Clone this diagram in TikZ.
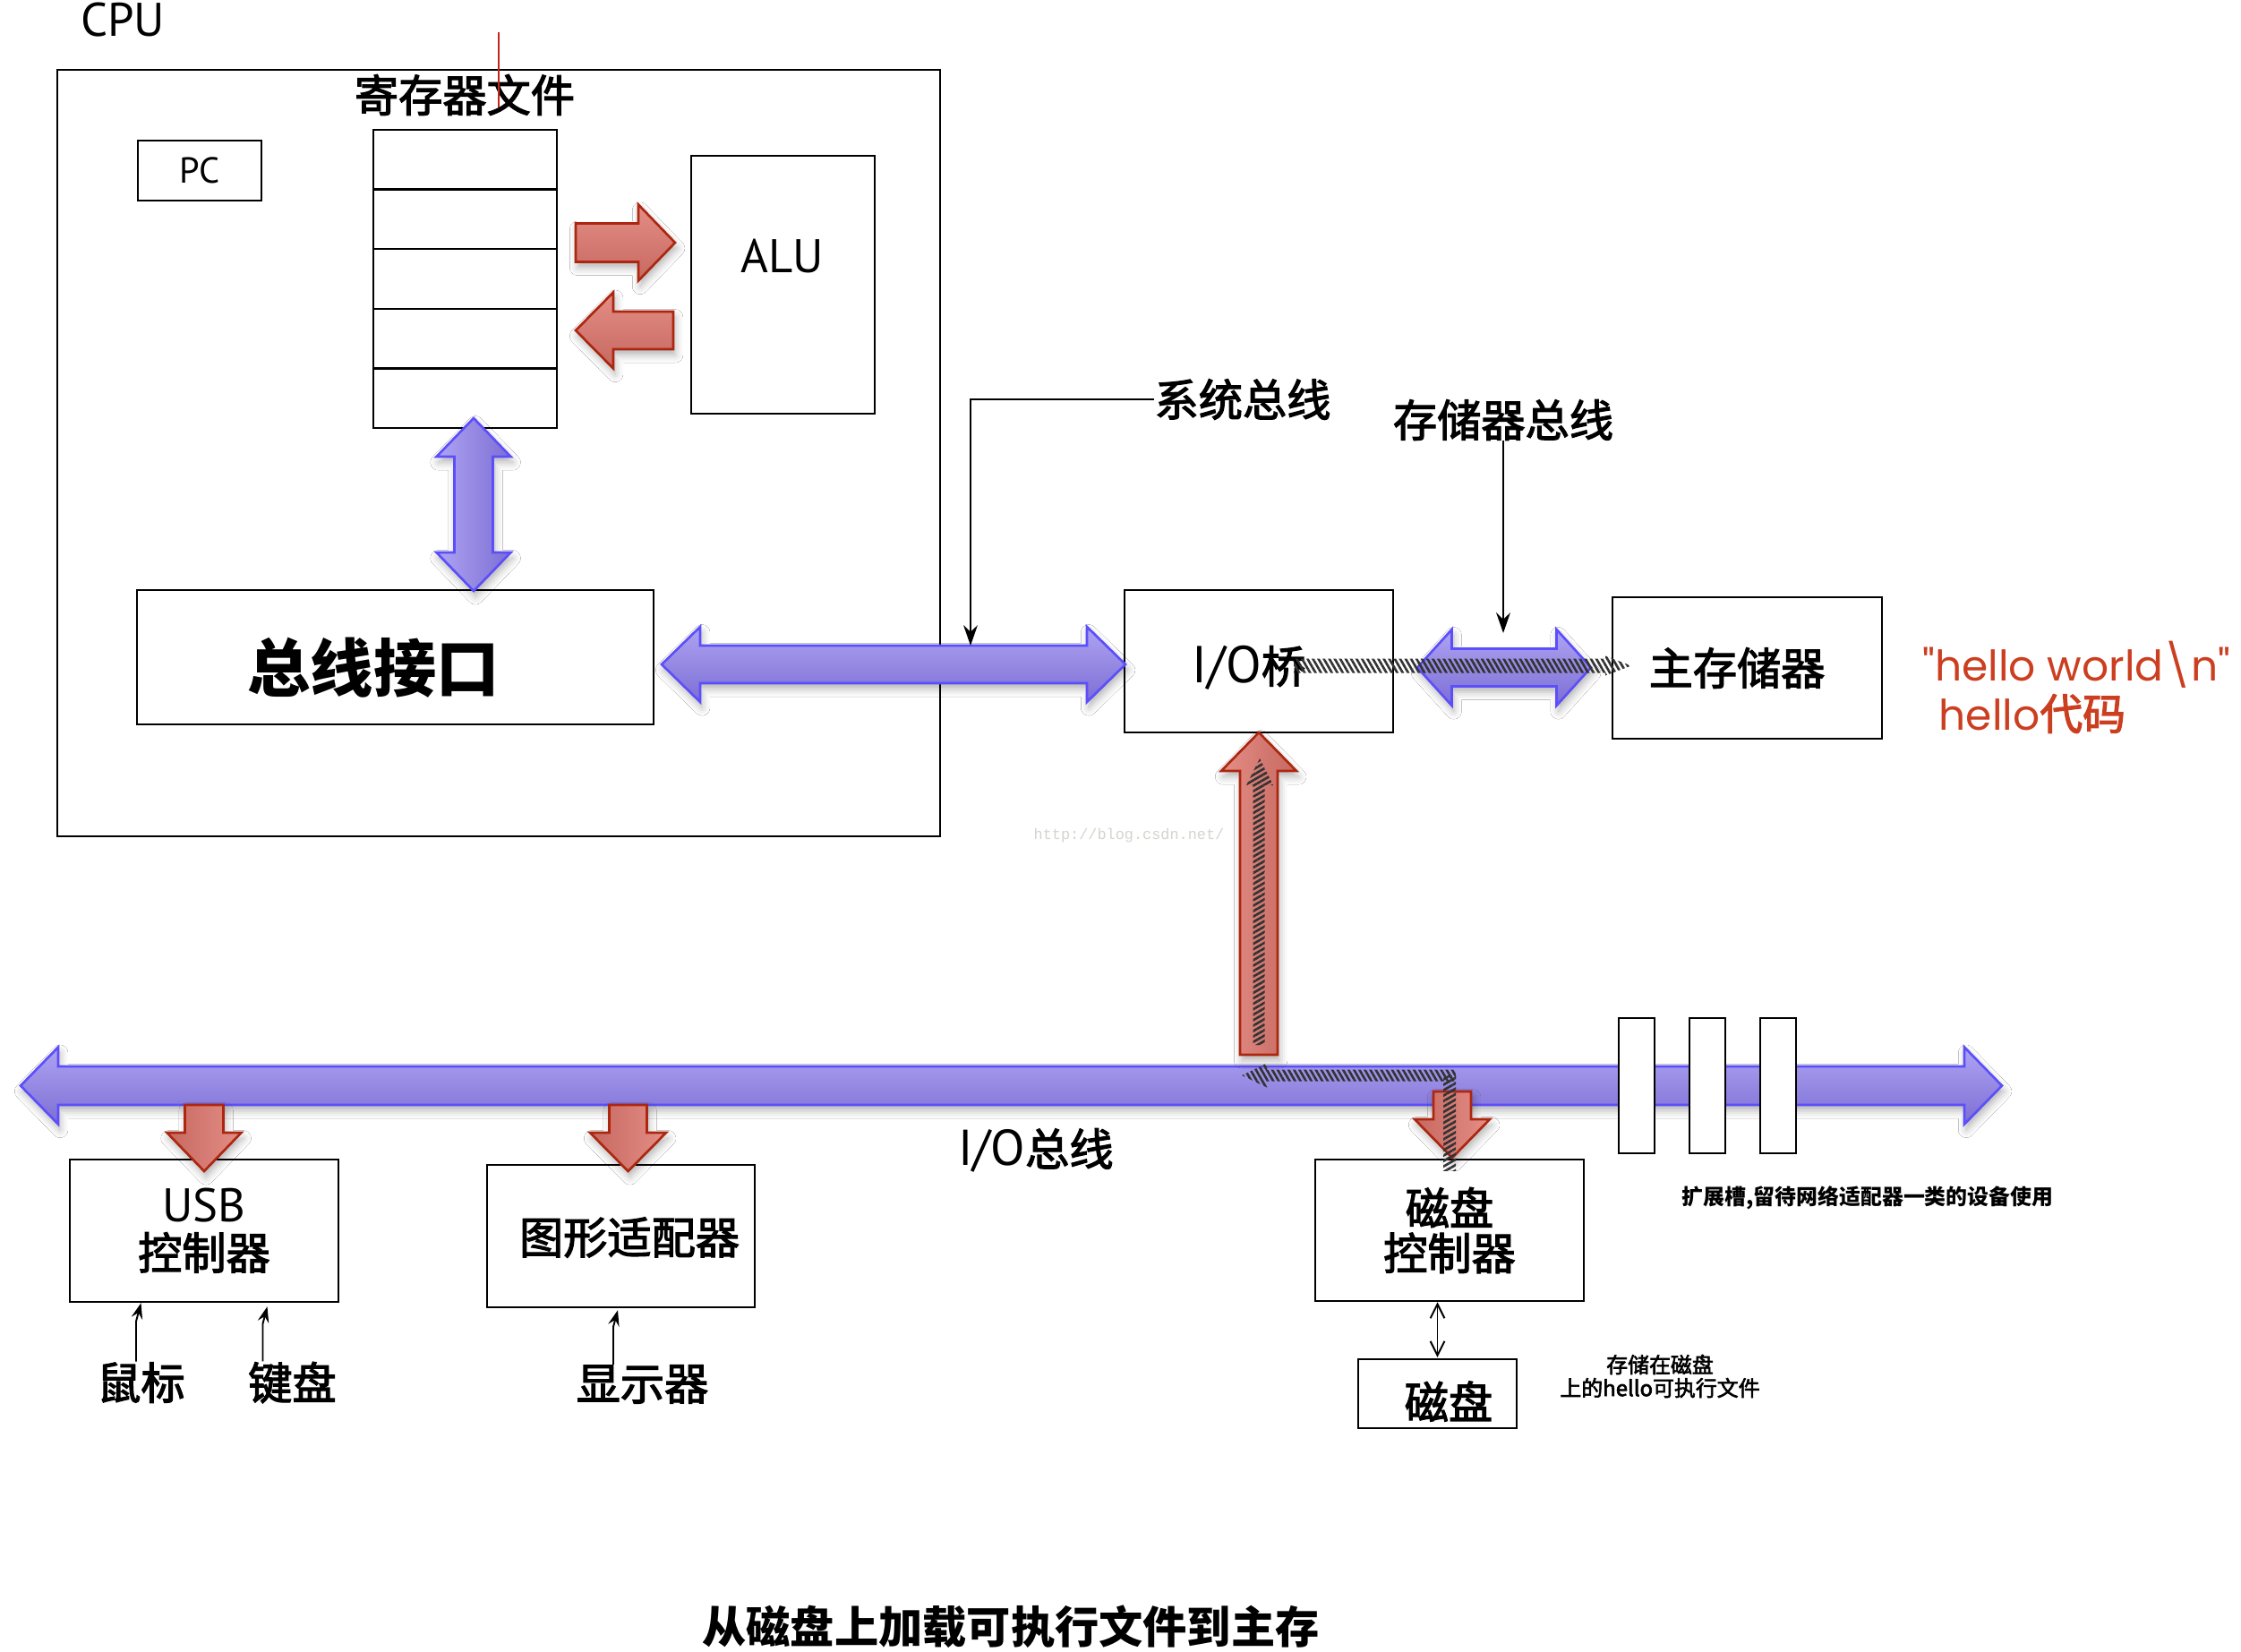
\documentclass[tikz,border=0pt]{standalone}
\usepackage{fontspec}
\setmainfont{Noto Sans CJK SC}
\newfontfamily\med{Noto Sans CJK SC}[FakeBold=2.5]
\newfontfamily\lat{PT Sans}
\newfontfamily\pop{Poppins}
\newfontfamily\mono{Liberation Mono}
\usetikzlibrary{arrows.meta,patterns.meta,shadows.blur,calc}

\definecolor{bluelt}{RGB}{174,164,242}
\definecolor{bluedk}{RGB}{124,110,212}
\definecolor{bluebd}{RGB}{92,78,250}
\definecolor{redlt}{RGB}{228,142,134}
\definecolor{reddk}{RGB}{198,104,96}
\definecolor{redbd}{RGB}{172,38,16}
\definecolor{redtxt}{RGB}{204,62,32}
\definecolor{wmark}{RGB}{214,212,204}
\definecolor{redmark}{RGB}{190,40,30}

\newcommand\fsz[2]{\fontsize{#1pt}{#2pt}\selectfont}

% horizontal single block arrow: style, xtail, xtip, y, shaft half, head half, head length (signed)
\newcommand\harrow[7]{\path[#1] ({#2},{#4+#5}) -- ({#3-(#7)},{#4+#5}) -- ({#3-(#7)},{#4+#6}) -- ({#3},{#4}) -- ({#3-(#7)},{#4-#6}) -- ({#3-(#7)},{#4-#5}) -- ({#2},{#4-#5}) -- cycle;}
% vertical single block arrow: style, x, ytail, ytip, shaft half, head half, head length (signed, + for up)
\newcommand\varrow[7]{\path[#1] ({#2-#5},{#3}) -- ({#2-#5},{#4-(#7)}) -- ({#2-#6},{#4-(#7)}) -- ({#2},{#4}) -- ({#2+#6},{#4-(#7)}) -- ({#2+#5},{#4-(#7)}) -- ({#2+#5},{#3}) -- cycle;}
% horizontal double block arrow: style, xleft, xright, y, shaft half, head half, head length
\newcommand\hdarrow[7]{\path[#1] ({#2},{#4}) -- ({#2+#7},{#4+#6}) -- ({#2+#7},{#4+#5}) -- ({#3-#7},{#4+#5}) -- ({#3-#7},{#4+#6}) -- ({#3},{#4}) -- ({#3-#7},{#4-#6}) -- ({#3-#7},{#4-#5}) -- ({#2+#7},{#4-#5}) -- ({#2+#7},{#4-#6}) -- cycle;}
% vertical double block arrow: style, x, ybottom, ytop, shaft half, head half, head length
\newcommand\vdarrow[7]{\path[#1] ({#2},{#3}) -- ({#2+#6},{#3+#7}) -- ({#2+#5},{#3+#7}) -- ({#2+#5},{#4-#7}) -- ({#2+#6},{#4-#7}) -- ({#2},{#4}) -- ({#2-#6},{#4-#7}) -- ({#2-#5},{#4-#7}) -- ({#2-#5},{#3+#7}) -- ({#2-#6},{#3+#7}) -- cycle;}

\tikzset{
  box/.style={draw=black, line width=0.7pt, fill=white, inner sep=0pt},
  lab/.style={inner sep=0pt, font=\med\fsz{14}{16}},
  conn/.style={draw=black, line width=0.55pt, -{Stealth[length=6.5pt,width=4.5pt,inset=2.2pt]}},
  conns/.style={draw=black, line width=0.55pt, -{Stealth[length=5pt,width=3.6pt,inset=1.8pt]}},
  dconn/.style={draw=black, line width=0.55pt, {Straight Barb[length=4.5pt,width=4.5pt]}-{Straight Barb[length=4.5pt,width=4.5pt]}},
  softshadow/.style={blur shadow={shadow xshift=0.6pt, shadow yshift=-1.8pt, shadow blur radius=2.5pt, shadow opacity=30}},
  blueH/.style={softshadow, draw=bluebd, line width=0.75pt, top color=bluelt, bottom color=bluedk},
  blueV/.style={softshadow, draw=bluebd, line width=0.75pt, left color=bluelt, right color=bluedk},
  redH/.style={softshadow, draw=redbd, line width=0.75pt, top color=redlt, bottom color=reddk},
  redV/.style={softshadow, draw=redbd, line width=0.75pt, left color=redlt, right color=reddk},
  redVd/.style={softshadow, draw=redbd, line width=0.75pt, left color=reddk, right color=redlt},
  hatchH/.style={pattern={Lines[angle=-60,distance=1.5pt,line width=0.75pt]}, pattern color=black!80},
  hatchV/.style={pattern={Lines[angle=30,distance=1.5pt,line width=0.75pt]}, pattern color=black!80},
}

\begin{document}
\begin{tikzpicture}
\useasboundingbox (0,0) rectangle (25.03,-18.44);
\fill[white] (0,0) rectangle (25.03,-18.44);

% ---------- CPU ----------
\node[box, fill=none, line width=0.75pt, minimum width=9.86cm, minimum height=8.56cm] (cpu) at (5.57,-5.06) {};
\node[lab, font=\lat\fsz{15}{17}] (cpulab) at (1.37,-0.22) {CPU};
\node[lab] (reglab) at (5.19,-1.06) {寄存器文件};
\draw[redmark, line width=0.45pt] (5.57,-0.36) -- (5.57,-1.20);

\node[box, minimum width=1.38cm, minimum height=0.67cm, font=\lat\fsz{11.5}{13}] (pc) at (2.23,-1.905) {PC};

\node[box, minimum width=2.05cm, minimum height=0.666cm] (r1) at (5.195,-1.783) {};
\node[box, minimum width=2.05cm, minimum height=0.666cm] (r2) at (5.195,-2.449) {};
\node[box, minimum width=2.05cm, minimum height=0.666cm] (r3) at (5.195,-3.115) {};
\node[box, minimum width=2.05cm, minimum height=0.666cm] (r4) at (5.195,-3.781) {};
\node[box, minimum width=2.05cm, minimum height=0.666cm] (r5) at (5.195,-4.447) {};

\node[box, minimum width=2.05cm, minimum height=2.88cm] (alu) at (8.745,-3.18) {};
\node[lab, font=\lat\fsz{15}{17}] (alulab) at (8.74,-2.855) {ALU};

\node[box, minimum width=5.77cm, minimum height=1.50cm] (busif) at (4.415,-7.34) {};
\node[lab, font=\bfseries\fsz{20}{22}] (busiflab) at (4.17,-7.46) {总线接口};

% ---------- bridge / memory ----------
\node[box, minimum width=3.00cm, minimum height=1.59cm] (iob) at (14.06,-7.385) {};
\node[lab] (ioblab) at (13.95,-7.46) {{\lat\fsz{16.5}{18}I/O}桥};
\node[box, minimum width=3.01cm, minimum height=1.58cm] (mem) at (19.515,-7.46) {};
\node[lab] (memlab) at (19.40,-7.46) {主存储器};

\node[lab] (sysbus) at (13.88,-4.46) {系统总线};
\node[lab] (membus) at (16.79,-4.69) {存储器总线};
\coordinate (sysTip) at (10.84,-7.21);
\coordinate (memTip) at (16.79,-7.07);

\node[inner sep=0pt, anchor=base west, text=redtxt, font=\pop\fsz{13.4}{16}] (hw1) at (21.47,-7.60) {"hello world\textbackslash n"};
\node[inner sep=0pt, anchor=base west, text=redtxt, font=\med\fsz{13.6}{16}] (hw2) at (21.65,-8.15) {{\pop\fsz{13.4}{16}hello}代码};

\node[inner sep=0pt, text=wmark, font=\mono\fsz{4.8}{5}] (wm) at (12.61,-9.33) {http://blog.csdn.net/};

% ---------- lower boxes ----------
\node[box, minimum width=3.00cm, minimum height=1.59cm, align=center, font=\med\fsz{14}{15}] (usb) at (2.28,-13.745) {{\lat\fsz{15}{15}USB}\\控制器};
\node[box, minimum width=2.99cm, minimum height=1.59cm] (gfx) at (6.935,-13.805) {};
\node[lab] (gfxlab) at (7.03,-13.82) {图形适配器};
\node[box, minimum width=3.00cm, minimum height=1.58cm, align=center, font=\med\fsz{14}{14.3}] (dc) at (16.19,-13.74) {磁盘\\控制器};
\node[box, minimum width=1.77cm, minimum height=0.77cm] (disk) at (16.055,-15.565) {};
\node[lab] (disklab) at (16.18,-15.65) {磁盘};

\node[lab] (mouse) at (1.575,-15.44) {鼠标};
\node[lab] (kbd) at (3.265,-15.44) {键盘};
\node[lab] (disp) at (7.175,-15.46) {显示器};

\node[lab, font=\med\fsz{14}{18}] (iobuslab) at (11.57,-12.85) {{\lat\fsz{16}{18}I/O}总线};
\node[lab, font=\bfseries\fsz{6.8}{8}] (slotlab) at (20.86,-13.38) {扩展槽,留待网络适配器一类的设备使用};
\node[lab, font=\med\fsz{6.8}{7.4}, align=center] (disklab2) at (18.54,-15.37) {存储在磁盘\\上的hello可执行文件};

\node[lab, font=\bfseries\fsz{14}{16}] (title) at (11.29,-18.17) {从磁盘上加载可执行文件到主存};

% ---------- blue buses ----------
\vdarrow{blueV}{5.29}{-6.60}{-4.67}{0.215}{0.415}{0.43}
\hdarrow{blueH}{7.39}{12.57}{-7.42}{0.21}{0.42}{0.43}
\hdarrow{blueH}{15.83}{17.77}{-7.455}{0.21}{0.425}{0.385}
\hdarrow{blueH}{0.23}{22.36}{-12.125}{0.215}{0.43}{0.42}

% expansion slots
\node[box, minimum width=0.40cm, minimum height=1.51cm] (s1) at (18.28,-12.125) {};
\node[box, minimum width=0.40cm, minimum height=1.51cm] (s2) at (19.07,-12.125) {};
\node[box, minimum width=0.40cm, minimum height=1.51cm] (s3) at (19.86,-12.125) {};

% ---------- red arrows ----------
\harrow{redH}{6.43}{7.54}{-2.71}{0.215}{0.425}{0.41}
\harrow{redH}{7.52}{6.43}{-3.69}{0.21}{0.425}{-0.42}
\varrow{redV}{14.06}{-11.78}{-8.18}{0.21}{0.42}{0.43}
\varrow{redVd}{2.28}{-12.34}{-13.08}{0.215}{0.415}{-0.43}
\varrow{redVd}{7.015}{-12.34}{-13.08}{0.21}{0.425}{-0.43}
\varrow{redVd}{16.22}{-12.19}{-12.93}{0.21}{0.42}{-0.43}

% ---------- connectors ----------
\draw[conn] (sysbus.west) -| (sysTip);
\draw[conn] (membus.south) -- (memTip);
\draw[conns] ([xshift=-0.055cm]mouse.north) -- ([xshift=-0.055cm,yshift=0.45cm]mouse.north) -- ([xshift=-0.705cm]usb.south);
\draw[conns] ([xshift=-0.33cm]kbd.north) -- ([xshift=-0.33cm,yshift=0.42cm]kbd.north) -- ([xshift=0.705cm,yshift=-0.04cm]usb.south);
\draw[conns] ([xshift=-0.325cm]disp.north) -- ([xshift=-0.325cm,yshift=0.42cm]disp.north) -- ([xshift=-0.035cm,yshift=-0.02cm]gfx.south);
\draw[dconn] ([yshift=0.01cm]disk.north) -- (disk.north |- dc.south);

% ---------- hatched data path ----------
\path[hatchH] (14.45,-7.355) -- (17.93,-7.355) -- (17.93,-7.325) -- (18.22,-7.435) -- (17.93,-7.545) -- (17.93,-7.515) -- (14.45,-7.515) -- cycle;
\path[hatchV] (13.995,-11.67) -- (13.995,-8.77) -- (13.92,-8.77) -- (14.07,-8.47) -- (14.22,-8.77) -- (14.125,-8.77) -- (14.125,-11.67) -- cycle;
\path[hatchV] (16.12,-13.07) -- (16.12,-12.01) -- (16.26,-12.01) -- (16.26,-13.07) -- cycle;
\path[hatchH] (16.26,-11.945) -- (14.15,-11.945) -- (14.15,-11.875) -- (13.87,-12.01) -- (14.15,-12.145) -- (14.15,-12.075) -- (16.26,-12.075) -- cycle;
\end{tikzpicture}
\end{document}
